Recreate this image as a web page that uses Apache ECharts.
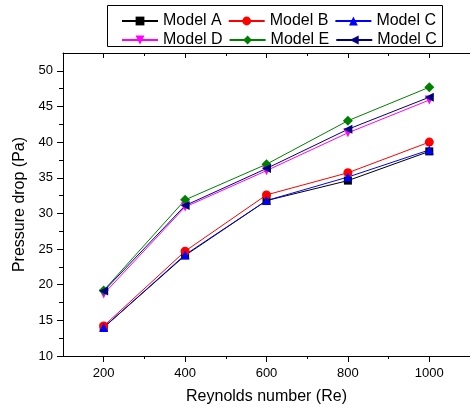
<!DOCTYPE html>
<html>
<head>
<meta charset="utf-8">
<script src="https://cdn.jsdelivr.net/npm/echarts@6/dist/echarts.min.js"></script>
<style>
html,body{margin:0;padding:0;background:#fff;}
#chart{width:470px;height:410px;}
</style>
</head>
<body>
<div id="chart"></div>
<script>
var reynolds = [200, 400, 600, 800, 1000];
var modelA  = [14.0, 24.1, 31.8, 34.6, 38.7];
var modelB  = [14.2, 24.7, 32.6, 35.7, 40.0];
var modelC  = [14.0, 24.2, 31.8, 35.1, 38.9];
var modelD  = [18.7, 30.9, 36.0, 41.3, 45.9];
var modelE  = [19.2, 31.9, 36.9, 43.0, 47.7];
var modelC2 = [19.1, 31.1, 36.3, 41.8, 46.3];

var xTickLabels = [200, 400, 600, 800, 1000];
var xMinorTicks = [300, 500, 700, 900];
var yTickLabels = [10, 15, 20, 25, 30, 35, 40, 45, 50];
var yMinorTicks = [12.5, 17.5, 22.5, 27.5, 32.5, 37.5, 42.5, 47.5];

var FONT = "'Liberation Sans', Arial, sans-serif";

function pairs(xs, ys){ return xs.map(function(x,i){ return [x, ys[i]]; }); }

function mkSeries(name, data, color, symbol, rotate, size){
  return {
    name: name, type: 'line', xAxisIndex: 0, yAxisIndex: 0,
    data: pairs(reynolds, data),
    symbol: symbol, symbolSize: size, symbolRotate: rotate,
    showAllSymbol: true,
    lineStyle: {color: color, width: 1},
    itemStyle: {color: color, borderWidth: 0},
    emphasis: {disabled: true},
    animation: false
  };
}

var chart = echarts.init(document.getElementById('chart'), null, {renderer: 'canvas'});

var axisLineStyle = {show: true, lineStyle: {color: '#000', width: 1}};
var plain = function(v){ return String(v); };

var option = {
  backgroundColor: '#fff',
  animation: false,
  grid: {left: 63, top: 53, right: -6, bottom: 54, containLabel: false},
  legend: [
    {
      data: ['Model A', 'Model B', 'Model C'],
      left: 121, top: 13, padding: 0, itemGap: 6,
      itemWidth: 36, itemHeight: 11,
      textStyle: {fontFamily: FONT, fontSize: 16, color: '#000', lineHeight: 16},
      formatter: function(n){ return n.trim(); },
      selectedMode: false
    },
    {
      data: ['Model D', 'Model E', 'Model C '],
      left: 121, top: 32, padding: 0, itemGap: 6,
      itemWidth: 36, itemHeight: 11,
      textStyle: {fontFamily: FONT, fontSize: 16, color: '#000', lineHeight: 16},
      formatter: function(n){ return n.trim(); },
      selectedMode: false
    }
  ],
  graphic: [
    {type: 'rect', shape: {x: 107.5, y: 5.5, width: 335, height: 41},
     style: {fill: null, stroke: '#000', lineWidth: 1}, z: 100, silent: true}
  ],
  xAxis: [
    {
      type: 'value', position: 'bottom', min: 100, max: 1100,
      name: 'Reynolds number (Re)', nameLocation: 'middle', nameGap: 33,
      nameTextStyle: {fontFamily: FONT, fontSize: 16, color: '#000'},
      axisLine: axisLineStyle,
      axisTick: {show: true, inside: false, length: 6, customValues: xTickLabels, lineStyle: {color: '#000'}},
      axisLabel: {show: true, margin: 11, customValues: xTickLabels, formatter: plain, fontFamily: FONT, fontSize: 13, color: '#000'},
      splitLine: {show: false}
    },
    {
      type: 'value', position: 'bottom', min: 100, max: 1100,
      axisLine: {show: false},
      axisTick: {show: true, inside: false, length: 3, customValues: xMinorTicks, lineStyle: {color: '#000'}},
      axisLabel: {show: false}, splitLine: {show: false}
    },
    {
      type: 'value', position: 'top', min: 100, max: 1100,
      axisLine: axisLineStyle,
      axisTick: {show: true, inside: true, length: 5, customValues: xTickLabels, lineStyle: {color: '#000'}},
      axisLabel: {show: false}, splitLine: {show: false}
    },
    {
      type: 'value', position: 'top', min: 100, max: 1100,
      axisLine: {show: false},
      axisTick: {show: true, inside: true, length: 3, customValues: xMinorTicks, lineStyle: {color: '#000'}},
      axisLabel: {show: false}, splitLine: {show: false}
    }
  ],
  yAxis: [
    {
      type: 'value', position: 'left', min: 10, max: 52.5,
      name: 'Pressure drop (Pa)', nameLocation: 'middle', nameGap: 28,
      nameTextStyle: {fontFamily: FONT, fontSize: 16, color: '#000'},
      axisLine: axisLineStyle,
      axisTick: {show: true, inside: false, length: 6, customValues: yTickLabels, lineStyle: {color: '#000'}},
      axisLabel: {show: true, margin: 10, customValues: yTickLabels, formatter: plain, fontFamily: FONT, fontSize: 13, color: '#000'},
      splitLine: {show: false}
    },
    {
      type: 'value', position: 'left', min: 10, max: 52.5,
      axisLine: {show: false},
      axisTick: {show: true, inside: false, length: 4, customValues: yMinorTicks, lineStyle: {color: '#000'}},
      axisLabel: {show: false}, splitLine: {show: false}
    }
  ],
  series: [
    mkSeries('Model A', modelA, '#000000', 'rect', 0, 8),
    mkSeries('Model B', modelB, '#ff0000', 'circle', 0, 9),
    mkSeries('Model C', modelC, '#0000ff', 'triangle', 0, 9),
    mkSeries('Model D', modelD, '#ff00ff', 'triangle', 180, 9),
    mkSeries('Model E', modelE, '#008000', 'diamond', 0, 10),
    mkSeries('Model C ', modelC2, '#000080', 'triangle', 90, 9)
  ]
};
chart.setOption(option);
</script>
</body>
</html>
